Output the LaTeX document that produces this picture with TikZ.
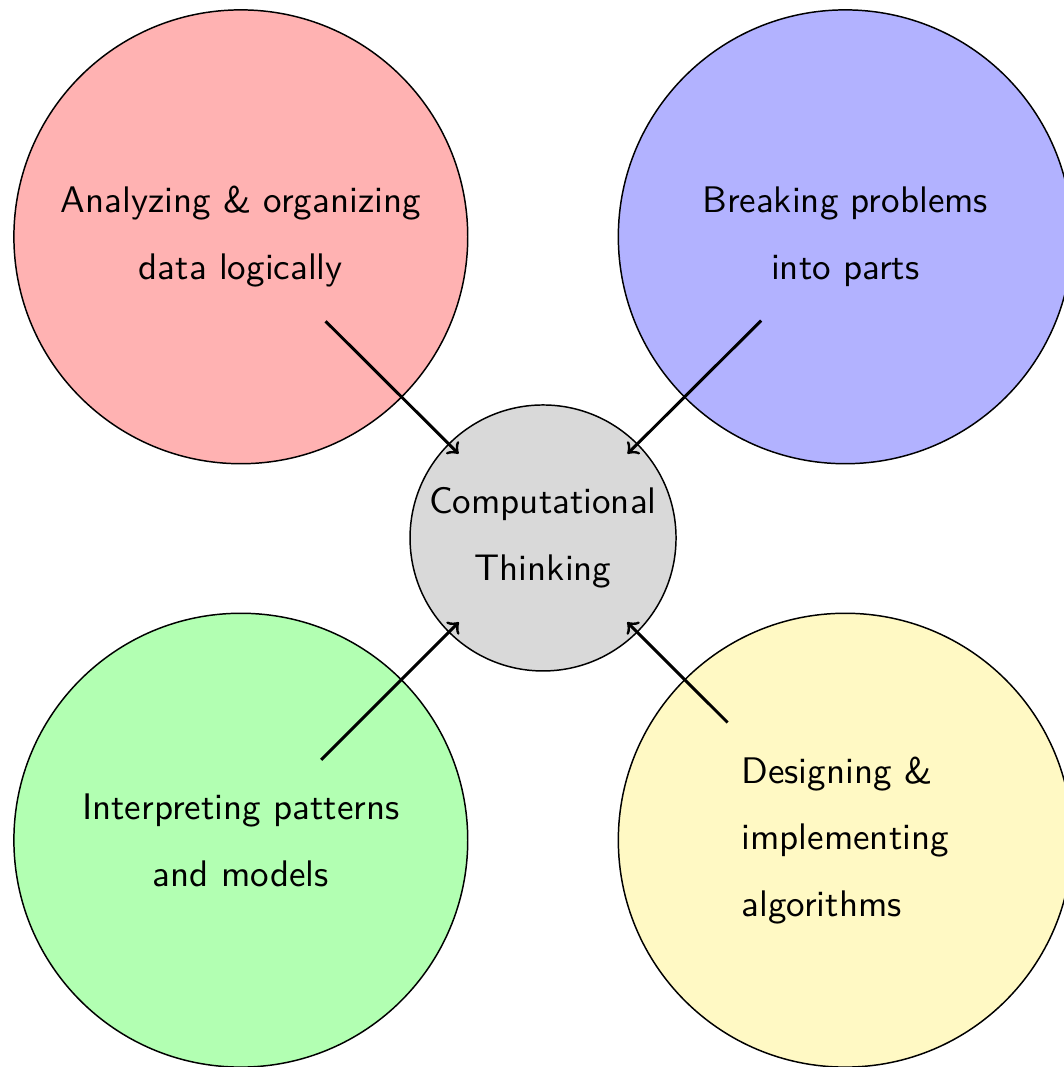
\documentclass[tikz,border=0pt]{standalone}
\definecolor{algoyellow}{RGB}{255,249,196}
\begin{document}
\begin{tikzpicture}[
    bubble/.style={circle,draw,minimum size=4.31cm,inner sep=0pt},
    hub/.style={circle,draw,fill=gray!30,minimum size=2.526cm,inner sep=0pt},
    txt/.style={font=\sffamily,align=center,inner sep=9pt}]
  \useasboundingbox (-5.157,-5.024) rectangle (4.938,5.109);
  \path (0,0) node[hub] (C) {};
  \path (-2.87,2.86) node[bubble,fill=red!30] (R) {};
  \path (2.87,2.86) node[bubble,fill=blue!30] (B) {};
  \path (-2.87,-2.87) node[bubble,fill=green!30] (G) {};
  \path (2.87,-2.87) node[bubble,fill=algoyellow] (Y) {};
  \path (C) node[txt] (ct) {Computational\\[6pt]Thinking};
  \path (R) node[txt] (data) {Analyzing \& organizing\\[6pt]data logically};
  \path (B) node[txt] (parts) {Breaking problems\\[6pt]into parts};
  \path (G) node[txt] (models) {Interpreting patterns\\[6pt]and models};
  \path (Y) node[txt,align=left] (algo) {Designing \&\\[6pt]implementing\\[6pt]algorithms};
  \draw[->,thick] (data) -- (ct);
  \draw[->,thick] (parts) -- (ct);
  \draw[->,thick] (models) -- (ct);
  \draw[->,thick] (algo) -- (ct);
\end{tikzpicture}
\end{document}
